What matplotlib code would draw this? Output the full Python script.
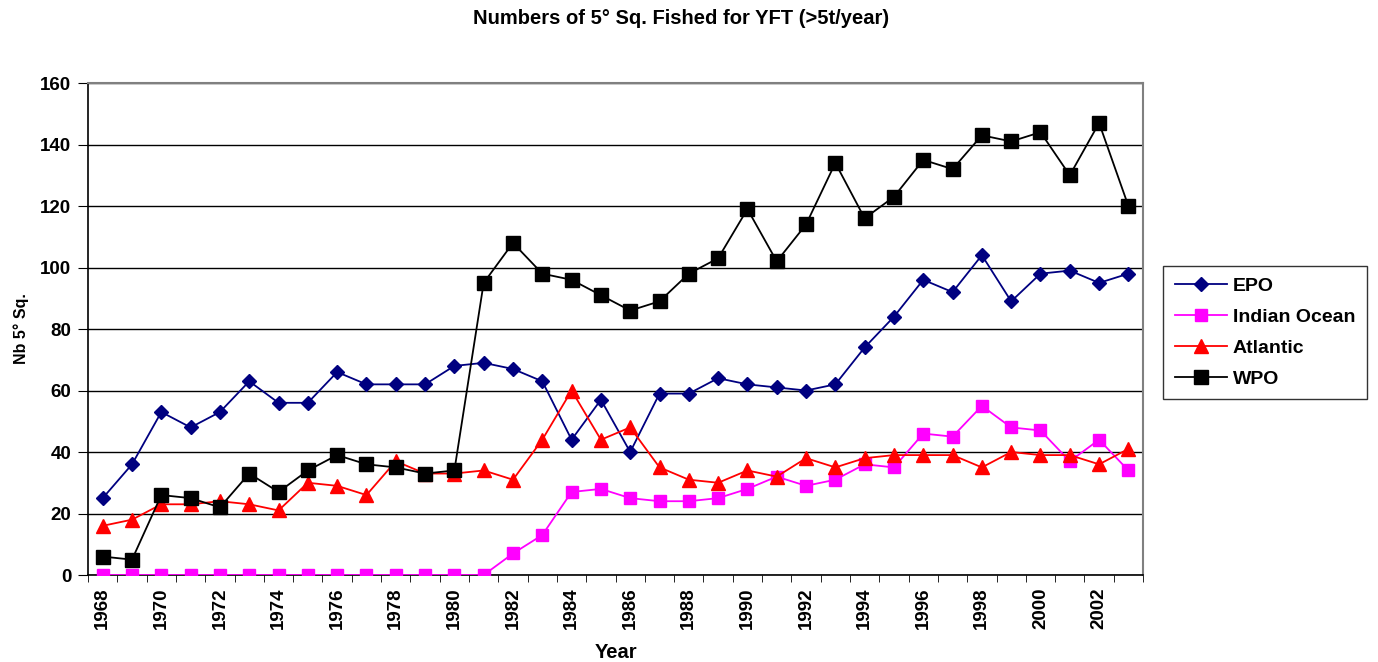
import matplotlib
matplotlib.use("Agg")
import matplotlib.pyplot as plt
import numpy as np

years = list(range(1968, 2004))
epo = [25, 36, 53, 48, 53, 63, 56, 56, 66, 62, 62, 62, 68, 69, 67, 63, 44, 57, 40, 59,
       59, 64, 62, 61, 60, 62, 74, 84, 96, 92, 104, 89, 98, 99, 95, 98]
indian = [0, 0, 0, 0, 0, 0, 0, 0, 0, 0, 0, 0, 0, 0, 7, 13, 27, 28, 25, 24,
          24, 25, 28, 32, 29, 31, 36, 35, 46, 45, 55, 48, 47, 37, 44, 34]
atlantic = [16, 18, 23, 23, 24, 23, 21, 30, 29, 26, 37, 33, 33, 34, 31, 44, 60, 44, 48, 35,
            31, 30, 34, 32, 38, 35, 38, 39, 39, 39, 35, 40, 39, 39, 36, 41]
wpo = [6, 5, 26, 25, 22, 33, 27, 34, 39, 36, 35, 33, 34, 95, 108, 98, 96, 91, 86, 89,
       98, 103, 119, 102, 114, 134, 116, 123, 135, 132, 143, 141, 144, 130, 147, 120]
series_names = ["EPO", "Indian Ocean", "Atlantic", "WPO"]

plt.rcParams['font.family'] = ['Liberation Sans', 'DejaVu Sans']
plt.rcParams['font.weight'] = 'bold'

fig = plt.figure(figsize=(13.78, 6.62), dpi=100)
ax = fig.add_axes([0.0639, 0.1314, 0.7656, 0.7432])

ax.plot(years, epo, color='#000080', marker='D', markersize=7.5, lw=1.3, label=series_names[0], zorder=3)
ax.plot(years, indian, color='#FF00FF', marker='s', markersize=8.5, lw=1.3, label=series_names[1], zorder=3)
ax.plot(years, atlantic, color='#FF0000', marker='^', markersize=10, lw=1.3, label=series_names[2], zorder=3)
ax.plot(years, wpo, color='black', marker='s', markersize=10.5, lw=1.3, label=series_names[3], zorder=4)

ax.set_xlim(1967.5, 2003.5)
ax.set_ylim(0, 160)
ax.set_yticks(range(0, 161, 20))
ax.yaxis.grid(True, color='black', lw=1)
ax.set_axisbelow(True)

even_years = [y for y in years if y % 2 == 0]
ax.set_xticks(even_years)
ax.set_xticklabels([str(y) for y in even_years], rotation=90, fontsize=13.5, fontweight='bold')
ax.tick_params(axis='x', which='major', length=0, pad=9)
ax.set_xticks(np.arange(1967.5, 2004, 1), minor=True)
ax.tick_params(axis='x', which='minor', length=5, direction='out', color='black')
ax.tick_params(axis='y', length=7, direction='out', labelsize=13.5, pad=5)
for lab in ax.get_yticklabels():
    lab.set_fontweight('bold')

for side in ['top', 'right']:
    ax.spines[side].set_color('#808080')
    ax.spines[side].set_linewidth(1.5)
for side in ['left', 'bottom']:
    ax.spines[side].set_color('black')
    ax.spines[side].set_linewidth(1.2)

ax.set_xlabel("Year", fontsize=14.5, fontweight='bold', labelpad=10)
ax.set_ylabel("Nb 5° Sq.", fontsize=11.5, fontweight='bold', labelpad=8)
fig.text(0.494, 0.972, "Numbers of 5° Sq. Fished for YFT (>5t/year)", ha='center', va='center',
         fontsize=14.5, fontweight='bold')

leg = fig.legend(loc='upper left', bbox_to_anchor=(1163/1378, 1 - 266/662), frameon=True,
                 fancybox=False, edgecolor='black', prop={'size': 14, 'weight': 'bold'},
                 handlelength=2.7, borderpad=0.6, labelspacing=0.68, handletextpad=0.3,
                 borderaxespad=0)
leg.get_frame().set_linewidth(1.0)

fig.savefig("out.png", dpi=100)
